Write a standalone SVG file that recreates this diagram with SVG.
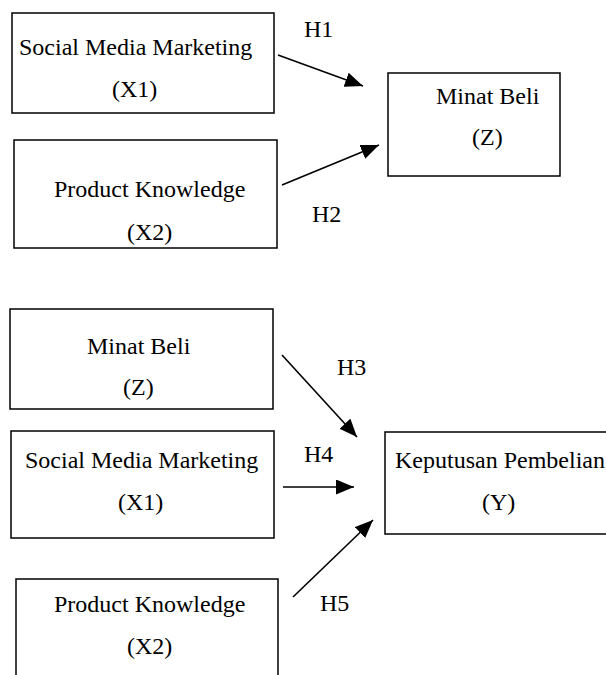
<svg xmlns="http://www.w3.org/2000/svg" width="606" height="675" viewBox="0 0 606 675">
<style>
.box{fill:#fff;stroke:#000;stroke-width:1.5}
.t{font-family:"Liberation Serif","Times New Roman",serif;font-size:24px;fill:#000}
.c line{stroke:#000;stroke-width:1.6;marker-end:url(#ah)}
</style>
<defs>
<marker id="ah" viewBox="0 0 18 15" refX="18" refY="7.5" markerWidth="18" markerHeight="15" markerUnits="userSpaceOnUse" orient="auto">
<path d="M0,0 L18,7.5 L0,15 z" fill="#000"/>
</marker>
</defs>
<rect width="606" height="675" fill="#fff"/>
<g id="smm1">
<rect class="box" x="12" y="13" width="262" height="100"/>
<text class="t" x="19" y="55">Social Media Marketing</text>
<text class="t" x="112" y="97">(X1)</text>
</g>
<g id="pk1">
<rect class="box" x="14" y="140" width="263" height="108"/>
<text class="t" x="54" y="197">Product Knowledge</text>
<text class="t" x="127" y="240">(X2)</text>
</g>
<g id="mb1">
<rect class="box" x="388" y="73" width="172" height="103"/>
<text class="t" x="436" y="104">Minat Beli</text>
<text class="t" x="472" y="145">(Z)</text>
</g>
<g id="mb2">
<rect class="box" x="10" y="309" width="263" height="100"/>
<text class="t" x="87" y="354">Minat Beli</text>
<text class="t" x="123" y="395">(Z)</text>
</g>
<g id="smm2">
<rect class="box" x="11" y="431" width="263" height="107"/>
<text class="t" x="25" y="468">Social Media Marketing</text>
<text class="t" x="118" y="510">(X1)</text>
</g>
<g id="pk2">
<rect class="box" x="16" y="579" width="262" height="120"/>
<text class="t" x="54" y="612">Product Knowledge</text>
<text class="t" x="127" y="654">(X2)</text>
</g>
<g id="kp">
<rect class="box" x="385" y="432" width="240" height="102"/>
<text class="t" x="395" y="468">Keputusan Pembelian</text>
<text class="t" x="482" y="510">(Y)</text>
</g>
<g id="connectors" class="c">
<line x1="278" y1="55" x2="363" y2="86"/>
<line x1="282" y1="185" x2="379" y2="145"/>
<line x1="282" y1="355" x2="357" y2="437"/>
<line x1="283" y1="487" x2="354" y2="487"/>
<line x1="293" y1="597" x2="373" y2="520"/>
</g>
<g id="labels">
<text class="t" x="304" y="37">H1</text>
<text class="t" x="312" y="222">H2</text>
<text class="t" x="337" y="375">H3</text>
<text class="t" x="304" y="462">H4</text>
<text class="t" x="320" y="611">H5</text>
</g>
</svg>
